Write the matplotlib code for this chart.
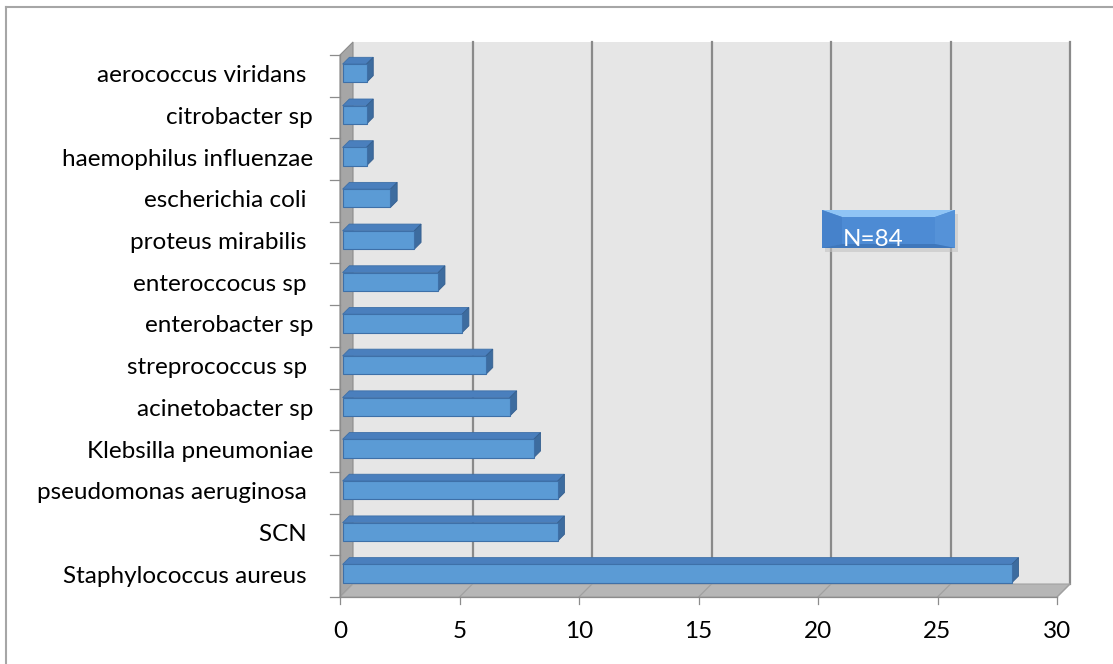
import matplotlib
matplotlib.use("Agg")
import matplotlib.pyplot as plt
from matplotlib.patches import Polygon
from matplotlib.lines import Line2D
from matplotlib.transforms import IdentityTransform, Affine2D, offset_copy

# Isolated organisms and their counts (bottom to top)
categories = [
    "Staphylococcus aureus ", "SCN ", "pseudomonas aeruginosa ",
    "Klebsilla pneumoniae", "acinetobacter sp", "streprococcus sp ",
    "enterobacter sp", "enteroccocus sp ", "proteus mirabilis ",
    "escherichia coli ", "haemophilus influenzae", "citrobacter sp",
    "aerococcus viridans ",
]
counts = [28, 9, 9, 8, 7, 6, 5, 4, 3, 2, 1, 1, 1]
x_ticks = [0, 5, 10, 15, 20, 25, 30]
total_label = "N=84"

W, H, DPI = 1113, 664, 100
FONT = "Lato"
FS = 17.5

fig = plt.figure(figsize=(W / DPI, H / DPI), dpi=DPI)
ax = fig.add_axes([340 / W, 67 / H, 717 / W, 542 / H])
n = len(categories)
ax.set_xlim(x_ticks[0], x_ticks[-1])
ax.set_ylim(-0.5, n - 0.5)
ax.axis("off")

# depth of the 3-D box in pixels
DX, DY = 13, 13
ymin, ymax = -0.5, n - 0.5
xmin, xmax = x_ticks[0], x_ticks[-1]


def P(x, y, d=0.0):
    px, py = ax.transData.transform((x, y))
    return (px + d * DX, py + d * DY)


def poly(pts, z, **kw):
    p = Polygon(pts, closed=True, transform=IdentityTransform(),
                clip_on=False, zorder=z, **kw)
    ax.add_patch(p)


def line(p0, p1, z, **kw):
    ln = Line2D([p0[0], p1[0]], [p0[1], p1[1]], transform=IdentityTransform(),
                clip_on=False, zorder=z, **kw)
    ax.add_line(ln)


# walls
poly([P(xmin, ymin, 1), P(xmax, ymin, 1), P(xmax, ymax, 1), P(xmin, ymax, 1)],
     0, fc="#e6e6e6", ec="none")
poly([P(xmin, ymin, 0), P(xmin, ymin, 1), P(xmin, ymax, 1), P(xmin, ymax, 0)],
     1, fc="#a6a6a6", ec="#8c8c8c", lw=0.8)
poly([P(xmin, ymin, 0), P(xmax, ymin, 0), P(xmax, ymin, 1), P(xmin, ymin, 1)],
     1, fc="#b6b6b6", ec="#a2a2a2", lw=0.8)

# gridlines on the back wall and the floor
for xv in x_ticks[1:]:
    line(P(xv, ymin, 1), P(xv, ymax, 1), 0.5, color="#8a8a8a", lw=1.6)
    line(P(xv, ymin, 0), P(xv, ymin, 1), 1.5, color="#a0a0a0", lw=0.9)

# axis lines and tick marks
line(P(xmin, ymin, 0), P(xmax, ymin, 0), 2, color="#8c8c8c", lw=0.9)
line(P(xmin, ymin, 0), P(xmin, ymax, 0), 2, color="#8c8c8c", lw=0.9)
for k in range(n + 1):
    b = P(xmin, k - 0.5, 0)
    line((b[0] - 10, b[1]), b, 2, color="#8c8c8c", lw=0.9)
for xv in x_ticks:
    b = P(xv, ymin, 0)
    line(b, (b[0], b[1] - 7), 2, color="#8c8c8c", lw=0.9)

# 3-D bars
D0, D1 = 0.2, 0.72
BH = 0.44
front = ax.transData + Affine2D().translate(D0 * DX, D0 * DY)
ys = list(range(n))
ax.barh(ys, counts, height=BH, color="#5b9bd5", edgecolor="#3e70a8",
        linewidth=0.8, transform=front, zorder=5, clip_on=False)
for yv, v in zip(ys, counts):
    t = yv + BH / 2
    b = yv - BH / 2
    poly([P(0, t, D0), P(v, t, D0), P(v, t, D1), P(0, t, D1)], 4,
         fc="#4a7fbd", ec="#3e70a8", lw=0.6)
    poly([P(v, b, D0), P(v, t, D0), P(v, t, D1), P(v, b, D1)], 4,
         fc="#3d6c9f", ec="#355f8f", lw=0.6)

# category labels
lab_tr = offset_copy(ax.transData, fig=fig, x=-27, y=0, units="dots")
for yv, name in zip(ys, categories):
    ax.text(0, yv, name, transform=lab_tr, ha="right", va="center",
            fontsize=FS, family=FONT, color="#000000", clip_on=False)

# value axis labels
xl_tr = offset_copy(ax.transData, fig=fig, x=0, y=-35, units="dots")
for xv in x_ticks:
    ax.text(xv, ymin, str(xv), transform=xl_tr, ha="center", va="center",
            fontsize=FS, family=FONT, color="#000000", clip_on=False)

# bevelled "N=84" box
bx0, bx1 = 822, 955
by0, by1 = H - 248, H - 210
bi, bt, bb = 20, 7, 4
poly([(bx0 + 3, by0 - 4), (bx1 + 3, by0 - 4), (bx1 + 3, by1 - 4), (bx0 + 3, by1 - 4)],
     6, fc="#c4c4c4", ec="none", alpha=0.6)
poly([(bx0, by0), (bx1, by0), (bx1, by1), (bx0, by1)], 7, fc="#4d8bd4", ec="none")
poly([(bx0, by1), (bx1, by1), (bx1 - bi, by1 - bt), (bx0 + bi, by1 - bt)], 8,
     fc="#8fc4f5", ec="none")
poly([(bx0, by0), (bx0 + bi, by0 + bb), (bx0 + bi, by1 - bt), (bx0, by1)], 8,
     fc="#4682cb", ec="none")
poly([(bx1, by0), (bx1 - bi, by0 + bb), (bx1 - bi, by1 - bt), (bx1, by1)], 8,
     fc="#5592d8", ec="none")
poly([(bx0, by0), (bx1, by0), (bx1 - bi, by0 + bb), (bx0 + bi, by0 + bb)], 8,
     fc="#3f77bb", ec="none")
ax.text(843, H - 246, total_label, transform=IdentityTransform(), ha="left",
        va="baseline", fontsize=17.5, family=FONT, color="white", zorder=9,
        clip_on=False)

# chart frame
fig.add_artist(Line2D([6 / W, 1.0], [1 - 7 / H, 1 - 7 / H], transform=fig.transFigure,
                      color="#a6a6a6", lw=1.5))
fig.add_artist(Line2D([6 / W, 6 / W], [0.0, 1 - 7 / H], transform=fig.transFigure,
                      color="#a6a6a6", lw=1.5))

fig.savefig("out.png", dpi=DPI, facecolor="white")
